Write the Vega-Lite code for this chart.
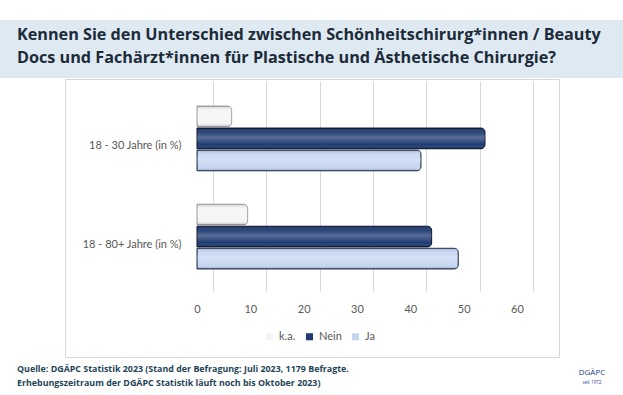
{
  "$schema": "https://vega.github.io/schema/vega-lite/v6.json",
  "background": "white",
  "padding": {"top": 20, "left": 0, "right": 0, "bottom": 0},
  "spacing": 0,
  "config": {"font": "Open Sans", "concat": {"spacing": 0}},
  "title": {
    "text": ["Quelle: DGÄPC Statistik 2023 (Stand der Befragung: Juli 2023, 1179 Befragte.", "Erhebungszeitraum der DGÄPC Statistik läuft noch bis Oktober 2023)"],
    "orient": "bottom", "anchor": "start", "frame": "bounds", "dx": 17, "offset": -20,
    "font": "Open Sans", "fontSize": 8.9, "fontWeight": "bold", "color": "#1f4457", "lineHeight": 14
  },
  "vconcat": [
    {
      "width": 623, "height": 58,
      "view": {"fill": "#dfe9f2", "stroke": null},
      "data": {"values": [
        {"line": "1", "t": "Kennen Sie den Unterschied zwischen Schönheitschirurg*innen / Beauty"},
        {"line": "2", "t": "Docs und Fachärzt*innen für Plastische und Ästhetische Chirurgie?"}
      ]},
      "mark": {"type": "text", "align": "left", "baseline": "middle", "font": "Open Sans", "fontSize": 16.2, "fontWeight": "bold", "color": "#1c2b39"},
      "encoding": {
        "x": {"value": 17},
        "y": {"field": "line", "type": "ordinal", "scale": {"type": "point", "range": [15, 38], "padding": 0}, "axis": null},
        "text": {"field": "t"}
      }
    },
    {
      "spacing": 0,
      "hconcat": [
        {
          "width": 64, "height": 278,
          "view": {"stroke": null},
          "data": {"values": []},
          "mark": "point"
        },
        {
          "width": 494, "height": 278,
          "view": {"stroke": "#d9d9d9", "fill": "white"},
          "data": {"values": [
            {"group": "18 - 30 Jahre (in %)", "series": "k.a.", "value": 6.5},
            {"group": "18 - 30 Jahre (in %)", "series": "Nein", "value": 54},
            {"group": "18 - 30 Jahre (in %)", "series": "Ja", "value": 42},
            {"group": "18 - 80+ Jahre (in %)", "series": "k.a.", "value": 9.5},
            {"group": "18 - 80+ Jahre (in %)", "series": "Nein", "value": 44},
            {"group": "18 - 80+ Jahre (in %)", "series": "Ja", "value": 49}
          ]},
          "encoding": {
            "y": {"field": "group", "type": "nominal", "sort": ["18 - 30 Jahre (in %)", "18 - 80+ Jahre (in %)"],
                  "scale": {"type": "band", "range": [27, 190], "paddingInner": 0.34, "paddingOuter": 0},
                  "axis": {"title": null, "orient": "left", "offset": -124, "domain": false, "ticks": false, "grid": false,
                           "labelPadding": 8, "labelOffset": 8, "labelFont": "Lato", "labelFontSize": 11, "labelColor": "#595959"}},
            "yOffset": {"field": "series", "type": "nominal", "sort": ["k.a.", "Nein", "Ja"], "scale": {"paddingInner": 0.06}},
            "x": {"field": "value", "type": "quantitative",
                  "scale": {"domain": [-24.75, 67.88], "nice": false, "zero": false},
                  "axis": {"title": null, "orient": "bottom", "offset": -66, "values": [0, 10, 20, 30, 40, 50, 60],
                           "domain": false, "grid": false, "ticks": true, "tickSize": -210, "tickColor": "#d9d9d9", "tickWidth": 1,
                           "tickOffset": 16, "labelOffset": -16, "labelPadding": 222,
                           "labelFont": "Lato", "labelFontSize": 11, "labelColor": "#595959"}}
          },
          "layer": [
            {
              "mark": {"type": "bar", "strokeWidth": 1, "cornerRadiusEnd": 4},
              "encoding": {
                "color": {"field": "series", "type": "nominal",
                          "scale": {"domain": ["k.a.", "Nein", "Ja"], "range": ["#f4f4f4", "#1f3c72", "#c6d7f1"]},
                          "legend": {"title": null, "orient": "none", "legendX": 264, "legendY": 311, "direction": "horizontal",
                                     "symbolType": "square", "symbolSize": 50, "symbolStrokeWidth": 0, "columnPadding": 8,
                                     "labelFont": "Lato", "labelFontSize": 11, "labelColor": "#595959"}},
                "stroke": {"field": "series", "type": "nominal",
                           "scale": {"domain": ["k.a.", "Nein", "Ja"], "range": ["#a6a6a6", "#0b1630", "#2a3a5c"]},
                           "legend": null}
              }
            },
            {
              "mark": {"type": "bar", "cornerRadiusEnd": 4, "strokeWidth": 0,
                       "fill": {"gradient": "linear", "x1": 0, "y1": 0, "x2": 0, "y2": 1,
                                "stops": [
                                  {"offset": 0, "color": "rgba(0,0,0,0.18)"},
                                  {"offset": 0.2, "color": "rgba(255,255,255,0.05)"},
                                  {"offset": 0.45, "color": "rgba(255,255,255,0.25)"},
                                  {"offset": 0.8, "color": "rgba(255,255,255,0.0)"},
                                  {"offset": 1, "color": "rgba(0,0,0,0.25)"}
                                ]}}
            }
          ]
        },
        {
          "width": 65, "height": 278,
          "view": {"stroke": null},
          "data": {"values": [{"t": "DGÄPC", "s": "seit 1972"}]},
          "layer": [
            {
              "mark": {"type": "text", "align": "center", "baseline": "middle", "font": "Open Sans", "fontSize": 8, "color": "#1f3c8a"},
              "encoding": {"x": {"value": 32}, "y": {"value": 294}, "text": {"field": "t"}}
            },
            {
              "mark": {"type": "text", "align": "center", "baseline": "middle", "font": "Open Sans", "fontSize": 4.5, "color": "#1f3c8a"},
              "encoding": {"x": {"value": 32}, "y": {"value": 304}, "text": {"field": "s"}}
            }
          ]
        }
      ]
    }
  ]
}
